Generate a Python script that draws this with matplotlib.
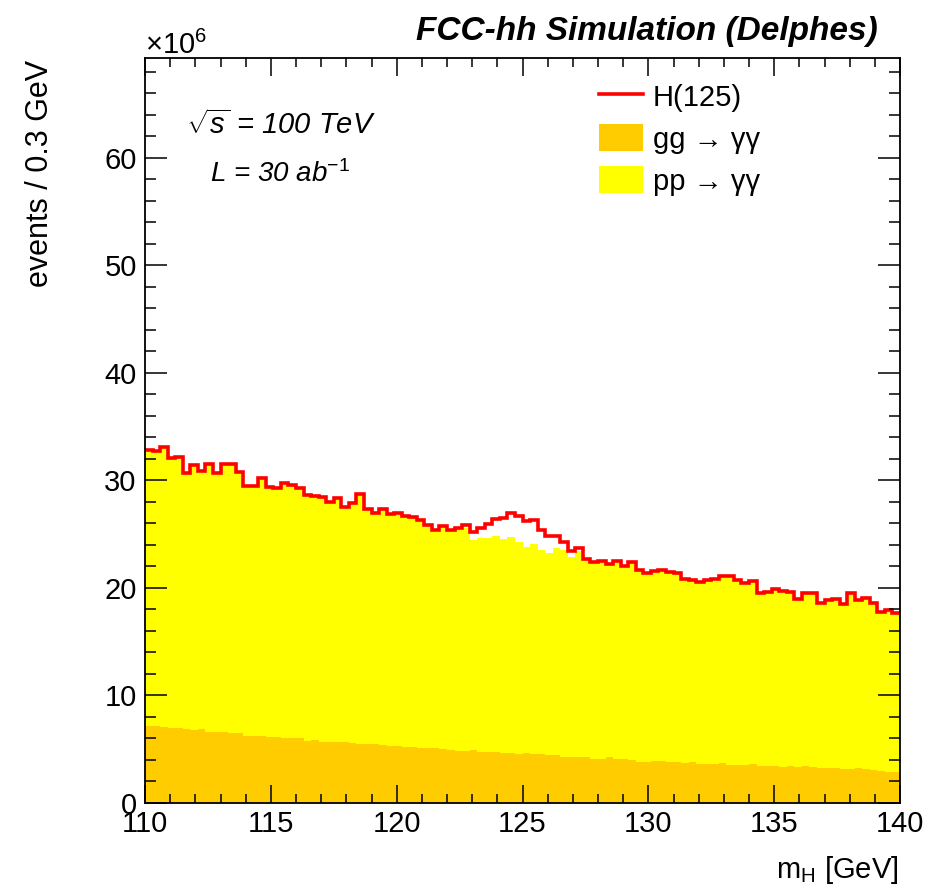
import numpy as np
import matplotlib
matplotlib.use("Agg")
import matplotlib.pyplot as plt
from matplotlib.lines import Line2D
from matplotlib.patches import Patch

plt.rcParams['font.family'] = ['Liberation Sans', 'DejaVu Sans']
plt.rcParams['mathtext.fontset'] = 'custom'
plt.rcParams['mathtext.rm'] = 'Liberation Sans'
plt.rcParams['mathtext.it'] = 'Liberation Sans:italic'

# binning: 100 bins of 0.3 GeV between 110 and 140 GeV
m_lo, m_hi, n_bins = 110.0, 140.0, 100

# events per bin, in units of 10^6
gg = [7.20, 7.20, 7.05, 6.95, 6.95, 6.90, 6.82, 6.85, 6.62, 6.60,
      6.57, 6.50, 6.48, 6.25, 6.23, 6.20, 6.14, 6.10, 6.05, 6.00,
      6.02, 5.80, 5.85, 5.72, 5.70, 5.68, 5.65, 5.55, 5.48, 5.50,
      5.45, 5.35, 5.30, 5.28, 5.22, 5.20, 5.15, 5.10, 5.08, 5.05,
      4.95, 4.85, 4.82, 4.90, 4.75, 4.72, 4.70, 4.68, 4.65, 4.60,
      4.68, 4.56, 4.56, 4.50, 4.43, 4.25, 4.25, 4.30, 4.25, 4.06,
      4.10, 4.25, 4.06, 4.06, 4.00, 3.78, 3.85, 3.93, 3.90, 3.83,
      3.83, 3.69, 3.80, 3.65, 3.62, 3.62, 3.69, 3.55, 3.53, 3.53,
      3.60, 3.44, 3.44, 3.42, 3.32, 3.44, 3.32, 3.44, 3.35, 3.30,
      3.22, 3.22, 3.13, 3.18, 3.22, 3.13, 3.10, 3.00, 2.92, 2.85]

pp = [25.62, 25.52, 26.07, 25.15, 25.25, 23.81, 24.63, 24.01, 24.86, 24.05,
      24.98, 25.05, 24.29, 23.22, 23.20, 24.04, 23.25, 23.21, 23.65, 23.56,
      23.29, 22.83, 22.69, 22.69, 22.24, 22.63, 21.90, 22.37, 23.21, 21.83,
      21.52, 21.95, 21.53, 21.67, 21.40, 21.35, 21.11, 20.68, 20.17, 20.61,
      20.31, 20.54, 20.74, 19.57, 19.88, 19.95, 20.15, 19.91, 20.10, 19.71,
      19.17, 19.53, 18.97, 18.72, 19.26, 19.28, 18.66, 19.17, 18.33, 18.29,
      18.33, 17.95, 18.40, 17.98, 18.38, 17.85, 17.54, 17.64, 17.78, 17.58,
      17.51, 17.15, 16.92, 16.85, 17.09, 17.15, 17.43, 17.56, 17.18, 16.94,
      17.05, 16.03, 16.19, 16.46, 16.37, 16.13, 15.60, 16.10, 16.19, 15.24,
      15.63, 15.70, 15.35, 16.29, 15.63, 15.88, 15.51, 14.77, 15.00, 14.76]

higgs = [0.02, 0.02, 0.02, 0.02, 0.02, 0.02, 0.02, 0.02, 0.02, 0.02,
         0.02, 0.02, 0.02, 0.02, 0.02, 0.02, 0.02, 0.02, 0.02, 0.02,
         0.02, 0.02, 0.02, 0.02, 0.02, 0.02, 0.02, 0.02, 0.02, 0.02,
         0.04, 0.05, 0.05, 0.06, 0.08, 0.09, 0.10, 0.12, 0.12, 0.14,
         0.17, 0.22, 0.33, 0.70, 0.95, 1.30, 1.55, 1.92, 2.20, 2.38,
         2.40, 2.24, 1.87, 1.65, 1.18, 0.72, 0.53, 0.28, 0.15, 0.10,
         0.08, 0.06, 0.05, 0.04, 0.04, 0.04, 0.04, 0.04, 0.04, 0.04,
         0.04, 0.03, 0.03, 0.03, 0.03, 0.03, 0.03, 0.03, 0.03, 0.03,
         0.03, 0.03, 0.03, 0.03, 0.03, 0.03, 0.03, 0.03, 0.03, 0.03,
         0.03, 0.03, 0.03, 0.03, 0.03, 0.03, 0.03, 0.03, 0.03, 0.03]

edges = np.linspace(m_lo, m_hi, n_bins + 1)
bkg = np.array(gg) + np.array(pp)
total = bkg + np.array(higgs)

W, H = 948, 891
fig = plt.figure(figsize=(W / 100, H / 100), dpi=100)
ax = fig.add_axes([145 / W, 1 - 803 / H, (900 - 145) / W, (803 - 58) / H])

ax.stairs(bkg, edges, fill=True, color='#ffff00', baseline=0)
ax.stairs(gg, edges, fill=True, color='#ffcc00', baseline=0)
ax.stairs(total, edges, color='#ff0000', linewidth=2.6, baseline=None)

ax.set_xlim(m_lo, m_hi)
ax.set_ylim(0, 69.3)
ax.set_xticks(np.arange(110, 141, 5))
ax.set_xticks(np.arange(110, 141, 1), minor=True)
ax.set_yticks(np.arange(0, 61, 10))
ax.set_yticks(np.arange(0, 69.3, 2), minor=True)
ax.tick_params(which='both', direction='in', top=True, right=True,
               width=1.1, labelsize=21)
ax.tick_params(axis='y', which='major', length=16, pad=6)
ax.tick_params(axis='y', which='minor', length=8)
ax.tick_params(axis='x', which='major', length=13, pad=5)
ax.tick_params(axis='x', which='minor', length=6.5)
for s in ax.spines.values():
    s.set_linewidth(1.3)

def px(x, y):
    return x / W, 1 - y / H

fig.text(*px(878, 40), 'FCC-hh Simulation (Delphes)', fontsize=24,
         fontweight='bold', style='italic', ha='right', va='baseline')
fig.text(*px(145, 54), r'$\times$10$^{6}$', fontsize=21, ha='left', va='baseline')
fig.text(*px(40, 60), 'events / 0.3 GeV', fontsize=22, rotation=90,
         ha='center', va='top')
fig.text(*px(899, 878), r'm$_{\mathrm{H}}$ [GeV]', fontsize=21,
         ha='right', va='baseline')

fig.text(*px(186, 125), r'$\sqrt{s}$ = 100 TeV', fontsize=21, style='italic',
         ha='left', va='center')
fig.text(*px(210, 182), r'L = 30 ab$^{\mathit{-1}}$', fontsize=20, style='italic',
         ha='left', va='baseline')

handles = [Line2D([], [], color='#ff0000', linewidth=2.6),
           Patch(facecolor='#ffcc00', edgecolor='none'),
           Patch(facecolor='#ffff00', edgecolor='none')]
labels = ['H(125)', 'gg \u2192 \u03b3\u03b3', 'pp \u2192 \u03b3\u03b3']
ax.legend(handles, labels, loc='upper left', bbox_to_anchor=px(599, 82),
          bbox_transform=fig.transFigure, frameon=False, fontsize=21,
          handlelength=1.5, handleheight=1.06, handletextpad=0.34,
          labelspacing=0.43, borderpad=0, borderaxespad=0)

fig.savefig('out.png', dpi=100)
